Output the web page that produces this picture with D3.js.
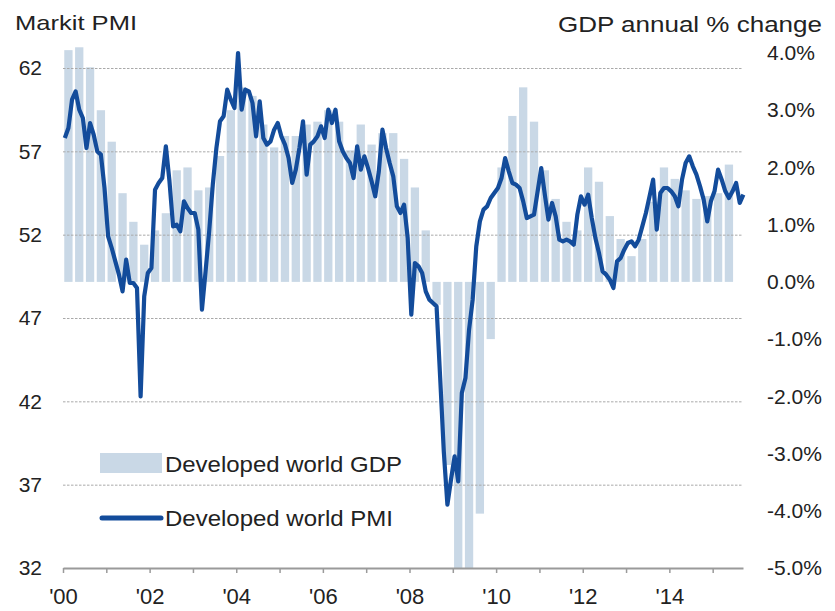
<!DOCTYPE html>
<html>
<head>
<meta charset="utf-8">
<script src="https://cdn.jsdelivr.net/npm/d3@7"></script>
<style>
  body { margin: 0; background: #fff; }
  svg { display: block; }
  text { font-family: "Liberation Sans", Arial, sans-serif; fill: #222; }
</style>
</head>
<body>
<svg id="chart" width="835" height="611"></svg>
<script>
// Developed world GDP (annual % change), quarterly from 2000 Q1
const firstYear = 2000;
const gdpQuarterly = [
  4.05, 4.1, 3.75, 3.0,    // 2000
  2.45, 1.55, 1.05, 0.65,  // 2001
  0.9, 1.2, 1.95, 2.0,     // 2002
  1.6, 1.65, 2.2, 3.0,     // 2003
  3.4, 3.25, 2.75, 2.35,   // 2004
  2.55, 2.55, 2.75, 2.8,   // 2005
  3.0, 2.8, 2.3, 2.75,     // 2006
  2.4, 2.6, 2.6, 2.15,     // 2007
  1.65, 0.9, -0.4, -3.2,   // 2008
  -5.0, -5.0, -4.05, -1.0, // 2009
  2.0, 2.9, 3.4, 2.8,      // 2010
  1.95, 1.45, 1.05, 0.9,   // 2011
  2.0, 1.75, 1.15, 0.75,   // 2012
  0.45, 0.75, 1.4, 2.0,    // 2013
  1.8, 1.6, 1.45, 1.5,     // 2014
  1.55, 2.05               // 2015
];

// Developed world manufacturing PMI, monthly from Jan 2000
const pmiMonthly = [
  57.8, 58.4, 60.1, 60.6, 59.5, 59.0, 57.2, 58.7, 58.0, 57.0, 56.8, 54.8, // 2000
  51.9, 51.2, 50.4, 49.6, 48.6, 50.5, 49.1, 49.1, 48.8, 42.3, 48.3, 49.7, // 2001
  50.0, 54.7, 55.1, 55.4, 57.3, 55.2, 52.5, 52.6, 52.2, 54.0, 53.6, 53.3, // 2002
  53.3, 52.3, 47.5, 49.8, 52.2, 55.0, 57.2, 58.8, 59.1, 60.7, 60.1, 59.6, // 2003
  62.9, 59.5, 60.7, 60.6, 59.9, 57.9, 60.0, 57.8, 57.4, 57.6, 58.3, 58.7, // 2004
  57.9, 57.4, 56.6, 55.1, 55.9, 57.2, 58.8, 55.6, 57.4, 57.6, 57.9, 58.5, // 2005
  57.8, 59.5, 58.7, 59.5, 57.6, 57.0, 56.6, 56.3, 55.4, 57.3, 55.9, 56.7, // 2006
  56.0, 55.2, 54.3, 55.8, 58.3, 57.2, 56.3, 55.5, 53.7, 53.3, 53.8, 51.8, // 2007
  47.2, 50.3, 50.1, 49.7, 48.6, 48.1, 47.9, 47.7, 43.4, 39.0, 35.8, 37.3, // 2008
  38.7, 37.2, 42.5, 43.4, 46.3, 48.1, 51.3, 52.8, 53.5, 53.7, 54.2, 54.5, // 2009
  54.8, 55.4, 56.6, 55.8, 55.1, 55.0, 54.8, 54.0, 53.0, 53.1, 53.2, 54.6, // 2010
  56.0, 54.4, 52.9, 53.9, 53.1, 51.7, 51.6, 51.7, 51.6, 51.4, 53.2, 54.3, // 2011
  53.8, 54.4, 53.0, 51.8, 50.9, 49.8, 49.6, 49.3, 48.8, 50.4, 50.6, 51.1, // 2012
  51.5, 51.6, 51.3, 51.7, 52.5, 53.3, 54.3, 55.3, 52.3, 54.5, 54.8, 54.8, // 2013
  54.6, 54.3, 53.7, 55.3, 56.3, 56.7, 56.1, 55.6, 54.9, 54.1, 52.8, 54.0, // 2014
  54.6, 55.9, 55.3, 54.6, 54.2, 54.6, 55.1, 53.9, 54.4                    // 2015
];

const pmiTicks = [32, 37, 42, 47, 52, 57, 62];
const pmiGridTicks = [37, 42, 47, 52, 57, 62];
const gdpTicks = [4, 3, 2, 1, 0, -1, -2, -3, -4, -5];
const yearTicks = [2000, 2001, 2002, 2003, 2004, 2005, 2006, 2007,
                   2008, 2009, 2010, 2011, 2012, 2013, 2014, 2015];
const yearLabelTicks = [2000, 2002, 2004, 2006, 2008, 2010, 2012, 2014];
const yearLabels = ["'00", "'02", "'04", "'06", "'08", "'10", "'12", "'14"];

const leftTitle = "Markit PMI";
const rightTitle = "GDP annual % change";
const legendGdp = "Developed world GDP";
const legendPmi = "Developed world PMI";

const barColor = "#c9d8e6";
const lineColor = "#134c9b";
const gridColor = "#a9a9a9";

const svg = d3.select("#chart");
svg.append("rect").attr("width", 835).attr("height", 611).attr("fill", "#fff");

const x = d3.scaleLinear().domain([2000, 2015.7]).range([63, 743]);
const yPmi = d3.scaleLinear().domain([32, 62]).range([568, 68]);
const yGdp = d3.scaleLinear().domain([-5, 4]).range([568, 53]);

// GDP bars, centred on each quarter
const barW = 8.3;
svg.append("g").selectAll("rect")
  .data(gdpQuarterly)
  .join("rect")
  .attr("x", (d, k) => x(firstYear + k / 4 + 0.125) - barW / 2)
  .attr("width", barW)
  .attr("y", d => Math.min(yGdp(d), yGdp(0)))
  .attr("height", d => Math.abs(yGdp(d) - yGdp(0)))
  .attr("fill", barColor);

// dotted horizontal gridlines on the PMI scale
const grid = svg.append("g")
  .attr("transform", "translate(63,0)")
  .call(d3.axisLeft(yPmi).tickValues(pmiGridTicks).tickSize(-680).tickFormat(""));
grid.select(".domain").remove();
grid.selectAll("line")
  .attr("stroke", gridColor)
  .attr("stroke-width", 1)
  .attr("stroke-dasharray", "2.5,1.5");

// PMI line, plotted at mid-month
const line = d3.line()
  .x((d, i) => x(firstYear + (i + 0.5) / 12))
  .y(d => yPmi(d))
  .curve(d3.curveLinear);
svg.append("path")
  .datum(pmiMonthly)
  .attr("d", line)
  .attr("fill", "none")
  .attr("stroke", lineColor)
  .attr("stroke-width", 4.2)
  .attr("stroke-linejoin", "round")
  .attr("stroke-linecap", "butt");

// left axis labels
const left = svg.append("g")
  .attr("transform", "translate(63,0)")
  .call(d3.axisLeft(yPmi).tickValues(pmiTicks).tickSize(0).tickPadding(21));
left.select(".domain").remove();
left.selectAll("text")
  .attr("font-size", 21)
  .attr("font-family", null)
  .attr("fill", "#222");

// right axis labels
const right = svg.append("g")
  .attr("transform", "translate(767,0)")
  .call(d3.axisRight(yGdp).tickValues(gdpTicks).tickSize(0).tickPadding(0)
    .tickFormat(d => d.toFixed(1) + "%"));
right.select(".domain").remove();
right.selectAll("text")
  .attr("font-size", 21)
  .attr("font-family", null)
  .attr("fill", "#222");

// bottom axis with yearly ticks, labels every two years
const labelFor = new Map(yearLabelTicks.map((y, i) => [y, yearLabels[i]]));
const bottom = svg.append("g")
  .attr("transform", "translate(0,568)")
  .call(d3.axisBottom(x).tickValues(yearTicks).tickSizeInner(5).tickSizeOuter(0)
    .tickPadding(15).tickFormat(d => labelFor.get(d) || ""));
bottom.select(".domain").attr("stroke", "#9a9a9a").attr("stroke-width", 2);
bottom.selectAll(".tick line").attr("stroke", "#9a9a9a").attr("stroke-width", 1.5);
bottom.selectAll("text")
  .attr("font-size", 22)
  .attr("font-family", null)
  .attr("fill", "#222");

// axis titles
svg.append("text")
  .attr("x", 15).attr("y", 30)
  .attr("font-size", 21)
  .attr("textLength", 122).attr("lengthAdjust", "spacingAndGlyphs")
  .text(leftTitle);
svg.append("text")
  .attr("x", 558).attr("y", 32)
  .attr("font-size", 22)
  .attr("textLength", 264).attr("lengthAdjust", "spacingAndGlyphs")
  .text(rightTitle);

// legend
const legend = svg.append("g");
legend.append("rect")
  .attr("x", 100).attr("y", 453).attr("width", 62).attr("height", 20)
  .attr("fill", barColor);
legend.append("text")
  .attr("x", 165).attr("y", 472)
  .attr("font-size", 22)
  .attr("textLength", 237).attr("lengthAdjust", "spacingAndGlyphs")
  .text(legendGdp);
legend.append("line")
  .attr("x1", 102).attr("x2", 161).attr("y1", 518).attr("y2", 518)
  .attr("stroke", lineColor).attr("stroke-width", 5)
  .attr("stroke-linecap", "round");
legend.append("text")
  .attr("x", 165).attr("y", 526)
  .attr("font-size", 22)
  .attr("textLength", 228).attr("lengthAdjust", "spacingAndGlyphs")
  .text(legendPmi);
</script>
</body>
</html>
